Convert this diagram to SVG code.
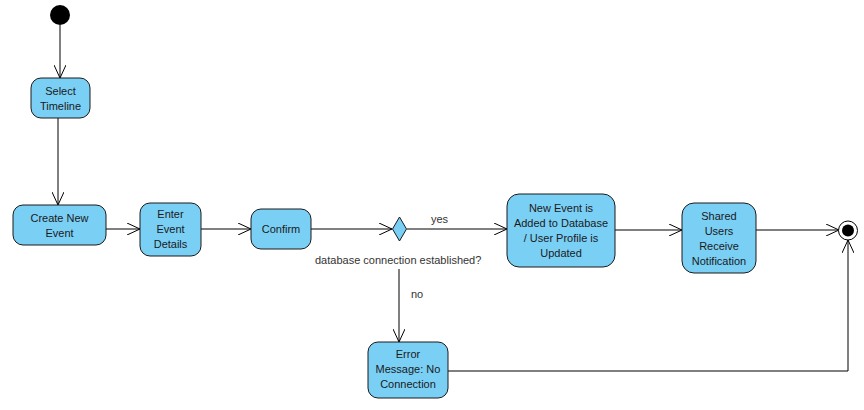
<svg xmlns="http://www.w3.org/2000/svg" width="864" height="410" viewBox="0 0 864 410">
<style>
.node rect{fill:#7ACFF5;stroke:#1a1a1a;stroke-width:1}
.node text{font-family:"Liberation Sans",Arial,sans-serif;font-size:11px;fill:#1a1a1a;text-anchor:middle}
.lbl{font-family:"Liberation Sans",Arial,sans-serif;font-size:11px;fill:#333}
#connectors path{fill:none;stroke:#000;stroke-width:1}
</style>
<defs>
<marker id="open" viewBox="0 0 14 12" refX="13" refY="6" markerWidth="14" markerHeight="12" markerUnits="userSpaceOnUse" orient="auto">
<path d="M0,0 L13,6 L0,12" fill="none" stroke="#000" stroke-width="1"/>
</marker>
</defs>
<rect width="864" height="410" fill="#fff"/>
<g id="connectors">
<path d="M60,25 V78" marker-end="url(#open)"/>
<path d="M58,118 V205" marker-end="url(#open)"/>
<path d="M106,229 H140" marker-end="url(#open)"/>
<path d="M201,229 H251" marker-end="url(#open)"/>
<path d="M311,229 H392" marker-end="url(#open)"/>
<path d="M407,229 H507" marker-end="url(#open)"/>
<path d="M399,269 V342" marker-end="url(#open)"/>
<path d="M615,230 H682" marker-end="url(#open)"/>
<path d="M756,230 H839" marker-end="url(#open)"/>
<path d="M448,371 H848 V240" marker-end="url(#open)"/>
<text class="lbl" x="431" y="223">yes</text>
<text class="lbl" x="315" y="264">database connection established?</text>
<text class="lbl" x="411" y="298">no</text>
</g>
<g id="start"><circle cx="60" cy="15" r="10" fill="#000"/></g>
<g id="select" class="node"><rect x="31" y="78" width="59" height="40" rx="10"/><text x="60.5" y="95">Select</text><text x="60.5" y="110">Timeline</text></g>
<g id="create" class="node"><rect x="13" y="205" width="93" height="40" rx="10"/><text x="59.5" y="222">Create New</text><text x="59.5" y="237">Event</text></g>
<g id="enter" class="node"><rect x="140" y="203" width="61" height="53" rx="10"/><text x="170.5" y="218">Enter</text><text x="170.5" y="233">Event</text><text x="170.5" y="248">Details</text></g>
<g id="confirm" class="node"><rect x="251" y="209" width="60" height="40" rx="10"/><text x="281" y="233">Confirm</text></g>
<g id="decision"><path d="M399.5,217 L406.5,229 L399.5,241 L392.5,229 Z" fill="#7ACFF5" stroke="#1a1a1a"/></g>
<g id="added" class="node"><rect x="507" y="194" width="108" height="73" rx="12"/><text x="561" y="212">New Event is</text><text x="561" y="227">Added to Database</text><text x="561" y="242">/ User Profile is</text><text x="561" y="257">Updated</text></g>
<g id="shared" class="node"><rect x="682" y="203" width="74" height="70" rx="12"/><text x="719" y="220">Shared</text><text x="719" y="235">Users</text><text x="719" y="250">Receive</text><text x="719" y="265">Notification</text></g>
<g id="error" class="node"><rect x="368" y="342" width="80" height="56" rx="10"/><text x="408" y="358">Error</text><text x="408" y="373">Message: No</text><text x="408" y="388">Connection</text></g>
<g id="end"><circle cx="848" cy="230.5" r="9.5" fill="#fff" stroke="#000"/><circle cx="848" cy="230.5" r="6" fill="#000"/></g>
</svg>
